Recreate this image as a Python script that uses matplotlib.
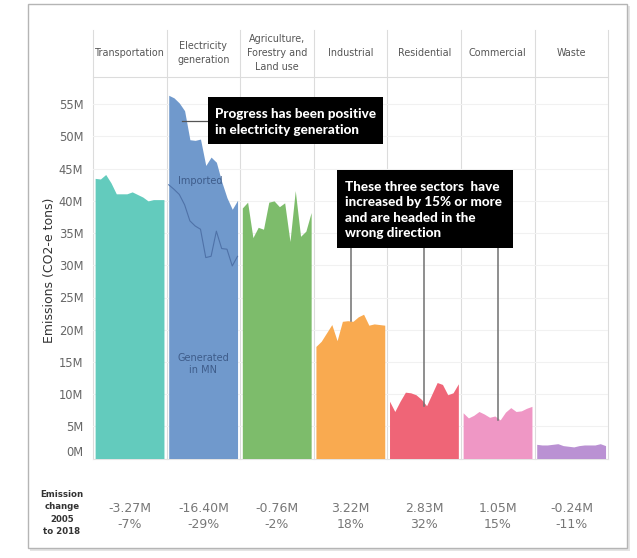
import matplotlib
matplotlib.use("Agg")
import matplotlib.pyplot as plt
from matplotlib.patches import Rectangle
import numpy as np

# ---------------- data ----------------
years = list(range(2005, 2019))
sectors = ["Transportation", "Electricity\ngeneration", "Agriculture,\nForestry and\nLand use",
           "Industrial", "Residential", "Commercial", "Waste"]
transportation = [43.5, 43.4, 44.1, 42.8, 41.1, 41.1, 41.1, 41.4, 41.0, 40.6, 40.0, 40.2, 40.2, 40.2]
electricity_total = [56.4, 56.0, 55.2, 54.0, 49.5, 49.4, 49.6, 45.5, 46.8, 46.0, 43.0, 40.5, 38.7, 40.1]
electricity_generated = [42.5, 41.8, 41.0, 39.4, 36.9, 36.1, 35.6, 31.2, 31.4, 35.3, 32.6, 32.5, 29.9, 31.4]
agriculture = [38.9, 39.8, 34.3, 35.9, 35.6, 39.8, 40.0, 39.1, 39.7, 33.7, 41.6, 34.5, 35.3, 38.2]
industrial = [17.4, 18.2, 19.5, 20.8, 18.3, 21.3, 21.4, 21.3, 22.0, 22.4, 20.7, 20.9, 20.8, 20.7]
residential = [8.9, 7.3, 8.9, 10.3, 10.2, 9.9, 9.2, 8.2, 10.0, 11.8, 11.5, 9.9, 10.2, 11.6]
commercial = [7.1, 6.3, 6.7, 7.3, 6.9, 6.4, 6.6, 6.0, 7.2, 7.9, 7.3, 7.4, 7.8, 8.1]
waste = [2.2, 2.1, 2.1, 2.2, 2.3, 2.0, 1.9, 1.8, 2.0, 2.1, 2.1, 2.1, 2.3, 2.0]
change_abs = ["-3.27M", "-16.40M", "-0.76M", "3.22M", "2.83M", "1.05M", "-0.24M"]
change_pct = ["-7%", "-29%", "-2%", "18%", "32%", "15%", "-11%"]
yticks = [0, 5, 10, 15, 20, 25, 30, 35, 40, 45, 50, 55]
ytick_labels = ["0M", "5M", "10M", "15M", "20M", "25M", "30M", "35M", "40M", "45M", "50M", "55M"]

series = [transportation, electricity_total, agriculture, industrial, residential, commercial, waste]
colors = ["#63cbbd", "#7099cc", "#7dbc6b", "#f9aa50", "#ef6577", "#ef97c5", "#ba91d3"]

W, H = 637, 558
fig = plt.figure(figsize=(W / 100, H / 100), dpi=100)
fig.patch.set_facecolor("white")

def fx(px):
    return px / W

def fy(py):
    return 1 - py / H

# overlay in pixel coords
ov = fig.add_axes([0, 0, 1, 1], zorder=0)
ov.set_xlim(0, W)
ov.set_ylim(H, 0)
ov.axis("off")

# frame with shadow
ov.add_patch(Rectangle((30, 6), 600, 545, facecolor="#e4e4e4", edgecolor="none", zorder=0))
ov.add_patch(Rectangle((28, 4), 599, 544, facecolor="white", edgecolor="#b5b5b5", lw=1.0, zorder=1))

left0 = 93.0
pw = 73.6
top_px = 77.0
zero_px = 458.5
px_per_M = 6.44
ymax = (zero_px - top_px) / px_per_M

axes = []
x = np.arange(len(years))
for i, (vals, col) in enumerate(zip(series, colors)):
    ax = fig.add_axes([fx(left0 + i * pw), fy(zero_px), fx(pw), (zero_px - top_px) / H], zorder=2)
    ax.set_facecolor("none")
    ax.set_xlim(-0.4, 13.5)
    ax.set_ylim(0, ymax)
    ax.fill_between(x, 0, vals, color=col, lw=0, zorder=2)
    for t in yticks[1:]:
        ax.axhline(t, color="#f1f1f1", lw=0.8, zorder=1)
    for s in ax.spines.values():
        s.set_visible(False)
    ax.set_xticks([])
    if i == 0:
        ax.set_yticks(yticks)
        ax.set_yticklabels(ytick_labels, fontsize=8.3, color="#666666", family="DejaVu Sans")
        ax.tick_params(axis="y", length=0, pad=7)
        labs = ax.get_yticklabels()
        labs[0].set_va("bottom")
    else:
        ax.set_yticks([])
    axes.append(ax)

# electricity generated line and labels
axe = axes[1]
axe.plot(x, electricity_generated, color="#4f72a8", lw=0.8, zorder=3)
axe.text(1.75, 43.1, "Imported", fontsize=7, color="#3e5c8a", va="center", ha="left", zorder=4)
axe.text(6.5, 14.7, "Generated\nin MN", fontsize=7, color="#3e5c8a", va="center", ha="center",
         linespacing=1.3, zorder=4)

# panel separators and header line
for i in range(8):
    xp = left0 + i * pw
    ov.plot([xp, xp], [30, zero_px], color="#dcdcdc", lw=0.8, zorder=1.5)
ov.plot([left0, left0 + 7 * pw], [top_px, top_px], color="#dcdcdc", lw=0.8, zorder=1.5)
ov.plot([left0, left0 + 7 * pw], [zero_px, zero_px], color="#e4e4e4", lw=0.8, zorder=1.5)

# header labels
for i, name in enumerate(sectors):
    ov.text(left0 + (i + 0.5) * pw, 53, name, ha="center", va="center", fontsize=6.9,
            color="#555555", linespacing=1.45, zorder=3)

# y label
ov.text(50, 270, "Emissions (CO2-e tons)", rotation=90, ha="center", va="center",
        fontsize=9, color="#333333", zorder=3)

# bottom change table
ov.text(62, 513, "Emission\nchange\n2005\nto 2018", ha="center", va="center", fontsize=6.2,
        fontweight="bold", color="#333333", linespacing=1.45, zorder=3)
for i in range(7):
    ov.text(left0 + (i + 0.5) * pw, 516, change_abs[i] + "\n" + change_pct[i], ha="center",
            va="center", fontsize=9, color="#777777", linespacing=1.3, zorder=3)

# annotation boxes
ov2 = fig.add_axes([0, 0, 1, 1], zorder=5)
ov2.set_xlim(0, W)
ov2.set_ylim(H, 0)
ov2.axis("off")
ov2.add_patch(Rectangle((208, 97), 175, 47, facecolor="black", edgecolor="none"))
ov2.text(215, 122, "Progress has been positive\nin electricity generation", color="white",
         fontsize=9.7, fontweight="black", family="Lato", ha="left", va="center", linespacing=1.35)
ov2.add_patch(Rectangle((337, 170), 176, 78, facecolor="black", edgecolor="none"))
ov2.text(345, 210, "These three sectors  have\nincreased by 15% or more\nand are headed in the\nwrong direction",
         color="white", fontsize=9.7, fontweight="black", family="Lato", ha="left", va="center",
         linespacing=1.35)

# leader lines (data coordinates, drawn outside clip)
box1_val = (zero_px - 121) / px_per_M
axe.plot([2.5, 7.4], [box1_val, box1_val], color="#555555", lw=0.9, clip_on=False, zorder=4)
box2_val = (zero_px - 248) / px_per_M
leaders = [(3, 6.6, industrial[7]), (4, 6.6, residential[7]), (5, 6.6, commercial[7])]
for pi, xi, yv in leaders:
    axes[pi].plot([xi, xi], [yv, box2_val], color="#707070", lw=1.1, clip_on=False, zorder=4)

fig.savefig("out.png", dpi=100)
